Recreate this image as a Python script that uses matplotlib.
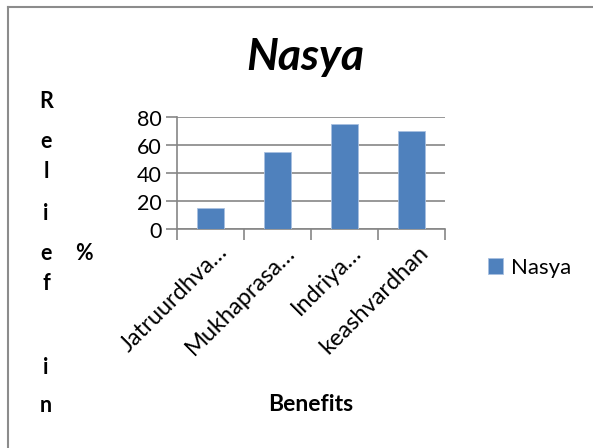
import matplotlib.pyplot as plt
import matplotlib.transforms as mtransforms
from matplotlib.lines import Line2D

# data
benefits = ['Jatruurdhva…', 'Mukhaprasa…', 'Indriya…', 'keashvardhan']
relief = [15, 55, 75, 70]
yticks = [0, 20, 40, 60, 80]

plt.rcParams['font.family'] = ['Lato', 'DejaVu Sans']

W, H = 593, 448
fig = plt.figure(figsize=(W / 100, H / 100), dpi=100)

# outer chart frame (only top and left edges are visible in the crop)
fig.add_artist(Line2D([8 / W, 8 / W], [0, 1 - 7 / H], color='#8c8c8c', lw=1.5, transform=fig.transFigure))
fig.add_artist(Line2D([8 / W, 1], [1 - 7 / H, 1 - 7 / H], color='#8c8c8c', lw=1.5, transform=fig.transFigure))

ax = fig.add_axes([177 / W, 1 - 229.5 / H, (445 - 177) / W, (229.5 - 117.5) / H])
x = list(range(len(benefits)))
ax.bar(x, relief, width=0.4, color='#4F81BD', edgecolor='#a8c0e0', linewidth=0.6, zorder=3, label='Nasya')

ax.set_xlim(-0.5, len(benefits) - 0.5)
ax.set_ylim(0, 80)
ax.set_yticks(yticks)
ax.yaxis.grid(True, color='#868686', lw=1.2, zorder=0)
for side in ['top', 'right']:
    ax.spines[side].set_visible(False)
for side in ['left', 'bottom']:
    ax.spines[side].set_color('#868686')
    ax.spines[side].set_linewidth(1.2)
ax.tick_params(axis='y', length=8, width=1.2, color='#868686', labelsize=15.5, pad=3)
ax.set_xticks([i - 0.5 for i in range(len(benefits) + 1)], minor=False)
ax.set_xticklabels([])
ax.tick_params(axis='x', length=8, width=1.2, color='#868686')
ax.set_xticks(x, minor=True)
ax.set_xticklabels(benefits, minor=True, rotation=45, ha='right', va='center', rotation_mode='anchor', fontsize=17)
ax.tick_params(axis='x', which='minor', length=0, pad=14)
shift = mtransforms.ScaledTranslation(10 / 72, 0, fig.dpi_scale_trans)
for lab in ax.get_xticklabels(minor=True):
    lab.set_transform(lab.get_transform() + shift)

fig.text(305 / W, 1 - 57 / H, 'Nasya', fontsize=32, fontweight='bold', fontstyle='italic', ha='center', va='center')
fig.text(311 / W, 1 - 404 / H, 'Benefits', fontsize=16.5, fontweight='bold', ha='center', va='center')

# y label as the stacked letters seen in the reference
ylab_letters = ['R', 'e', 'l', 'i', 'e', 'f', 'i', 'n']
ylab_y = [101, 142, 172, 213, 253, 284, 367, 405]
for ch, yy in zip(ylab_letters, ylab_y):
    fig.text(46 / W, 1 - yy / H, ch, fontsize=15.5, fontweight='bold', ha='center', va='center')
fig.text(84 / W, 1 - 253 / H, '%', fontsize=15.5, fontweight='bold', ha='center', va='center')

fig.legend(loc='center left', bbox_to_anchor=(479 / W, 1 - 268 / H), frameon=False, fontsize=16,
           handlelength=0.7, handleheight=0.7, handletextpad=0.35, borderaxespad=0)

fig.savefig('out.png', dpi=100)
